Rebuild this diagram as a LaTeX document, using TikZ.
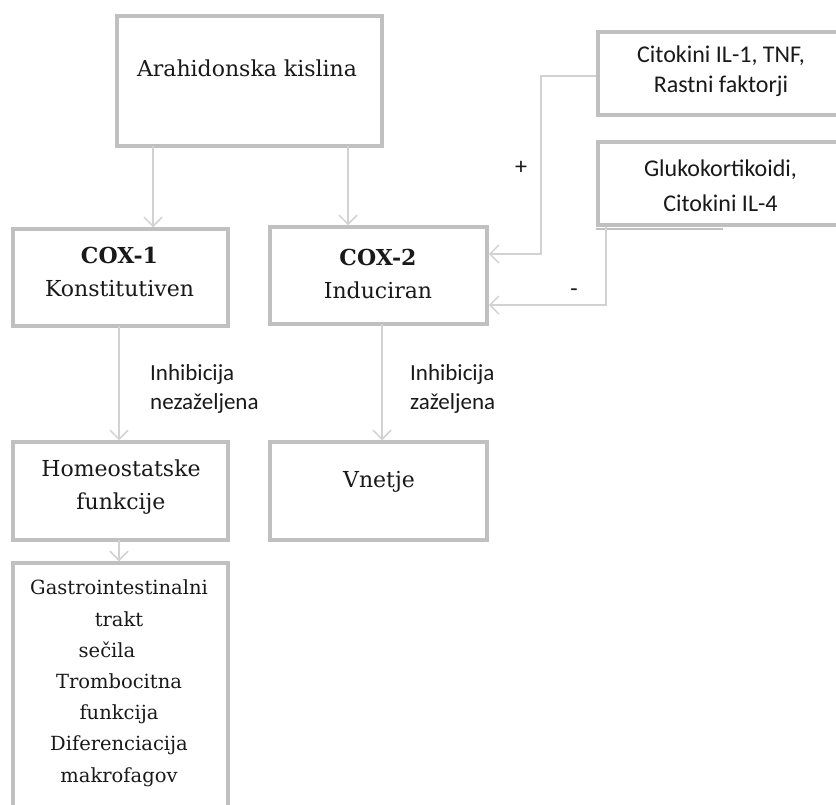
\documentclass[tikz,border=0pt]{standalone}
\usepackage{fontspec}
\setmainfont{DejaVu Serif}
\newfontfamily\calibri{Carlito}
\usetikzlibrary{arrows.meta}
\definecolor{boxgray}{RGB}{192,192,192}
\definecolor{arrgray}{RGB}{210,210,210}
\definecolor{txt}{RGB}{25,25,25}
\begin{document}
\begin{tikzpicture}[x=1pt,y=-1pt,
  box/.style={draw=boxgray,line width=3.5pt,fill=white,inner sep=0pt,rectangle},
  conn/.style={draw=arrgray,line width=1.5pt,-{Straight Barb[length=9pt,width=18pt]}},
  serif/.style={font=\fontsize{22}{33}\selectfont,text=txt,inner sep=0pt,anchor=base,align=center},
  smallserif/.style={font=\fontsize{19.5}{31.2}\selectfont,text=txt,inner sep=0pt,anchor=base,align=center},
  sans/.style={font=\calibri\fontsize{24}{30}\selectfont,text=txt,inner sep=0pt,anchor=base,align=center},
  sansleft/.style={font=\calibri\fontsize{23}{29}\selectfont,text=txt,inner sep=0pt,anchor=base west,align=left}]
\clip (0,0) rectangle (836,805);
\fill[white] (0,0) rectangle (836,805);

% boxes
\node[box,minimum width=265pt,minimum height=130pt] (arah) at (249.5,81) {};
\node[box,minimum width=215pt,minimum height=97pt] (cox1) at (120.5,277.5) {};
\node[box,minimum width=217pt,minimum height=97pt] (cox2) at (378.5,275.5) {};
\node[box,minimum width=215pt,minimum height=98pt] (homeo) at (120.5,491) {};
\node[box,minimum width=217pt,minimum height=98pt] (vnetje) at (378.5,491) {};
\node[box,minimum width=215pt,minimum height=260pt] (funk) at (120.5,693) {};
\node[box,minimum width=246pt,minimum height=83pt] (cyt) at (721,73.5) {};
\node[box,minimum width=246pt,minimum height=83pt] (gluko) at (721,183.5) {};
\draw[boxgray,line width=1.5pt] ([yshift=-2.5pt]gluko.south west) -- ++(127,0);

% texts (base anchor = baseline of the last line)
\node[serif] (arahT) at (247,77) {Arahidonska kislina};
\node[serif] (cox1T) at (119.5,297) {\bfseries COX-1\\Konstitutiven};
\node[serif] (cox2T) at (378,299) {\bfseries COX-2\\Induciran};
\node[serif] (homeoT) at (121,509) {Homeostatske\\funkcije};
\node[serif] (vnetjeT) at (379,487) {Vnetje};
\node[smallserif] (funkT) at (119,782) {Gastrointestinalni\\trakt\\sečila\makebox[24pt]{}\\Trombocitna\\funkcija\\Diferenciacija\\makrofagov};
\node[sans] (cytT) at (721,93) {Citokini IL-1, TNF,\\Rastni faktorji};
\node[sans,font=\calibri\fontsize{24}{35}\selectfont] (glukoT) at (720.5,212) {Glukokortikoidi,\\Citokini IL-4};
\node[sansleft] (inh1) at (150,409) {Inhibicija\\nezaželjena};
\node[sansleft] (inh2) at (410,409) {Inhibicija\\zaželjena};
\node[sans] (plus) at (521,175) {+};
\node[sans] (minus) at (574,297) {-};

% connectors
\coordinate (xa) at (153,0);
\coordinate (xb) at (348,0);
\coordinate (xc) at (119,0);
\coordinate (xd) at (382,0);
\coordinate (xg) at (606,0);
\coordinate (yp) at (0,254);
\coordinate (ym) at (0,305);
\draw[conn] ([yshift=2pt]arah.south -| xa) -- (cox1.north -| xa);
\draw[conn] ([yshift=2pt]arah.south -| xb) -- (cox2.north -| xb);
\draw[conn] ([yshift=2pt]cox1.south -| xc) -- (homeo.north -| xc);
\draw[conn] ([yshift=2pt]cox2.south -| xd) -- (vnetje.north -| xd);
\draw[conn] ([yshift=2pt]homeo.south -| xc) -- (funk.north -| xc);
\draw[conn] (cyt.west |- 0,76) -- (541,76) |- (cox2.east |- yp);
\draw[conn] (gluko.south -| xg) |- (cox2.east |- ym);
\end{tikzpicture}
\end{document}
